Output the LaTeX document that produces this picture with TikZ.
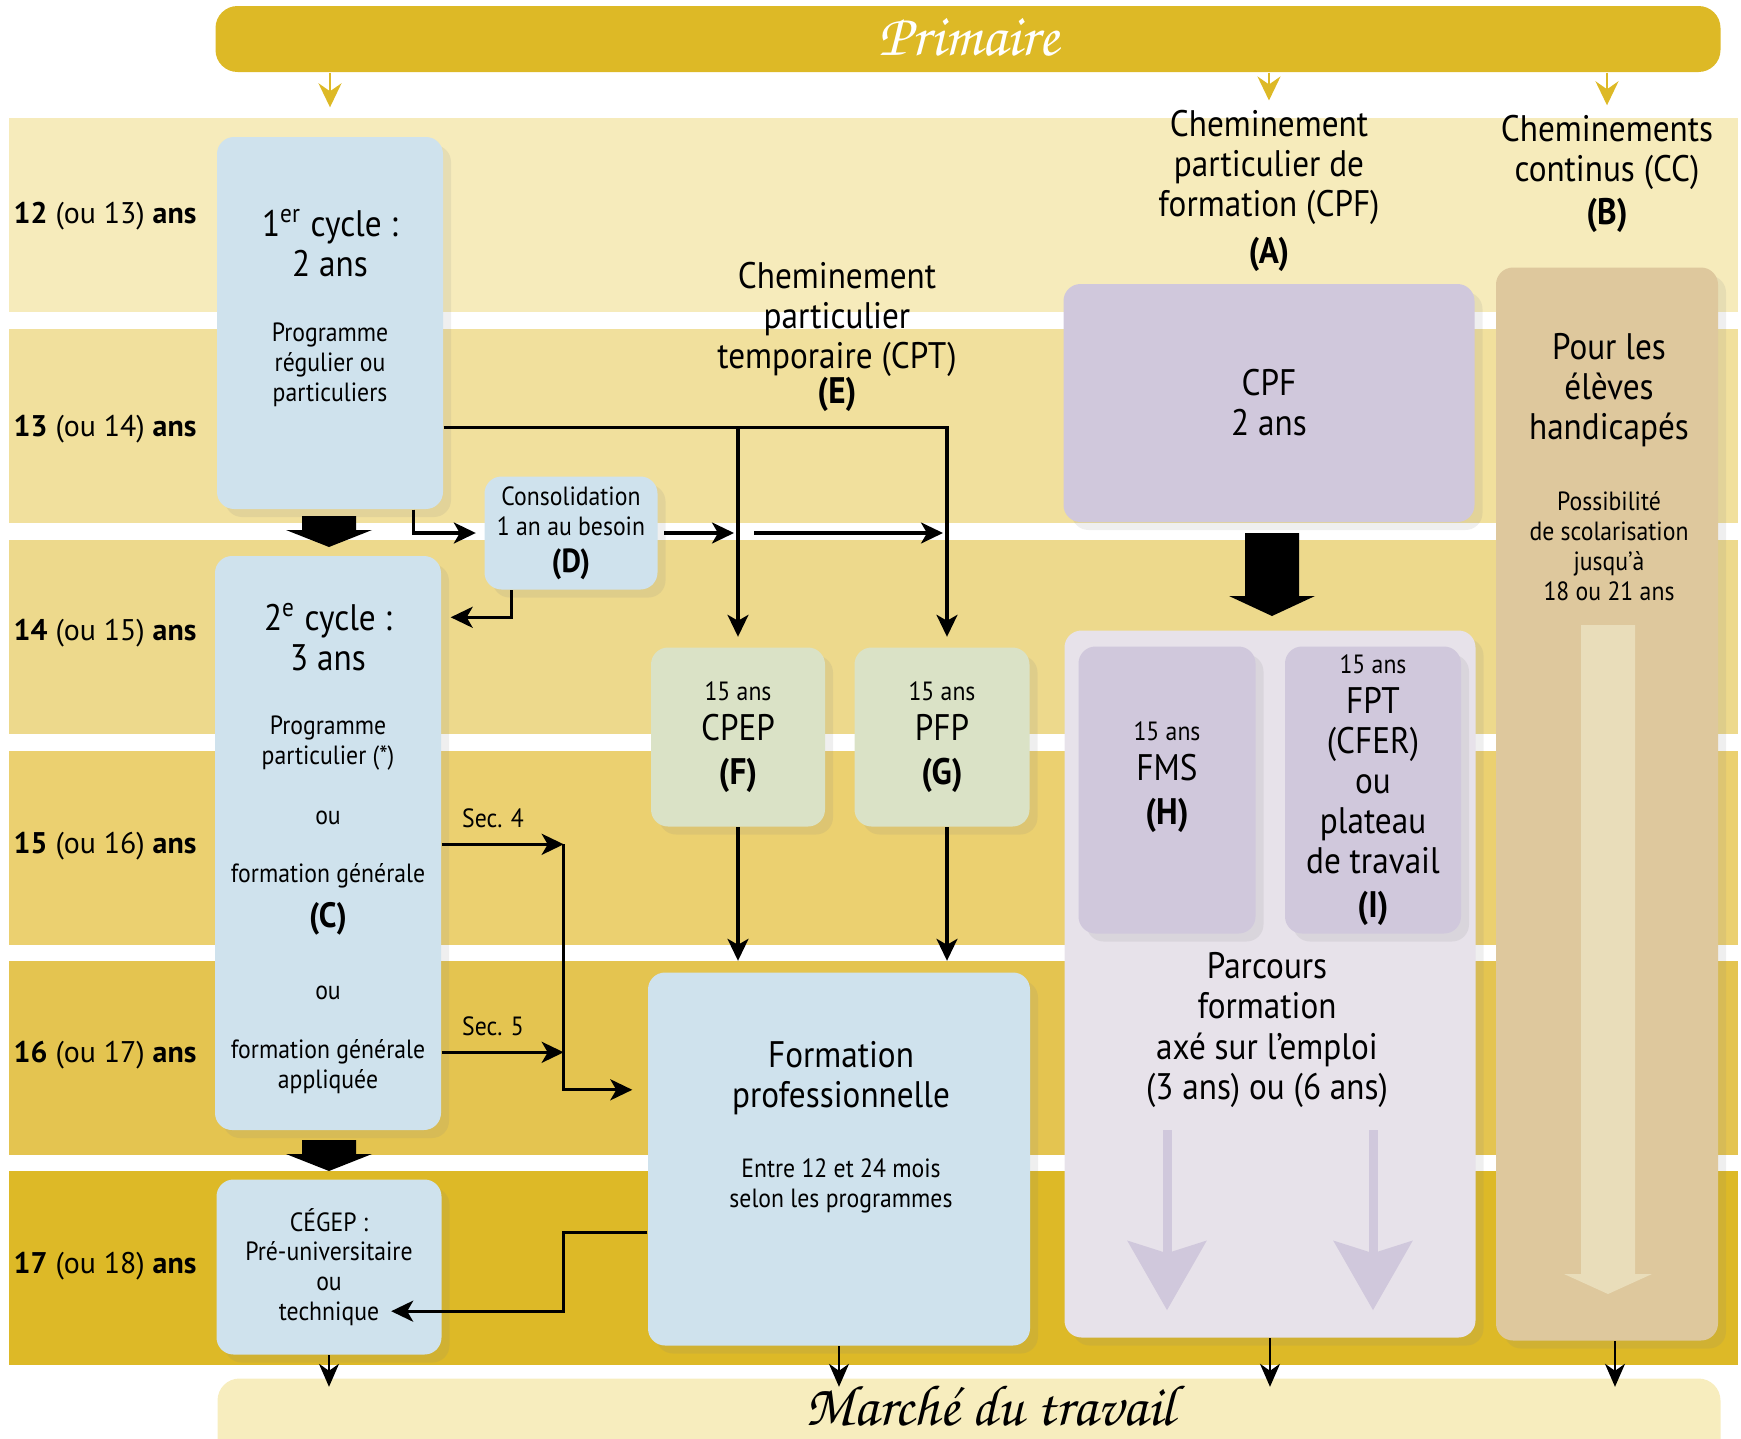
\documentclass[tikz,border=0pt]{standalone}
\usepackage{fontspec}
\setmainfont[FakeStretch=0.9]{PT Sans}
\newfontfamily\agefont{PT Sans}
\newfontfamily\calligfont{TeX Gyre Chorus}
\usetikzlibrary{arrows.meta,calc,shadows}

\definecolor{gold}{HTML}{DDB926}
\definecolor{bandA}{HTML}{F6EBBB}
\definecolor{bandB}{HTML}{F1E09D}
\definecolor{bandC}{HTML}{EDD98C}
\definecolor{bandD}{HTML}{EBD070}
\definecolor{bandE}{HTML}{E4C450}
\definecolor{bandF}{HTML}{DDB927}
\definecolor{paleblue}{HTML}{CFE2ED}
\definecolor{palegreen}{HTML}{DAE2C6}
\definecolor{lavender}{HTML}{D0C8DC}
\definecolor{mist}{HTML}{E7E2EA}
\definecolor{tan}{HTML}{DEC89D}
\definecolor{sand}{HTML}{E9DDBA}
\definecolor{cream}{HTML}{F7EDBE}

\newcommand{\grand}{\fontsize{10.5}{11.4}\selectfont}
\newcommand{\petit}{\fontsize{7.5}{8.5}\selectfont}
% block arrow: colour, x, top, stem half width, head half width, head y, tip y
\newcommand{\blockarrow}[7]{\fill[#1] (#2-#4,#3) -- (#2+#4,#3) -- (#2+#4,#6) -- (#2+#5,#6) -- (#2,#7) -- (#2-#5,#6) -- (#2-#4,#6) -- cycle;}

\tikzset{
  box/.style={rounded corners=1.7mm, inner sep=0pt, align=center,
    drop shadow={opacity=0.13, shadow xshift=0.8mm, shadow yshift=-0.8mm}},
  bluebox/.style={box, fill=paleblue},
  greenbox/.style={box, fill=palegreen},
  lavbox/.style={box, fill=lavender},
  big/.style={font=\grand, align=center, inner sep=0pt},
  small/.style={font=\petit, align=center, inner sep=0pt},
  age/.style={font=\agefont\fontsize{8.5}{10}\selectfont, anchor=west, inner sep=0pt},
  link/.style={line width=0.9pt, -{Stealth[length=2.2mm,width=2.1mm,inset=0.6mm]}},
  feed/.style={gold, line width=0.7pt, -{Stealth[length=2.4mm,width=2.3mm,inset=0.8mm]}},
  exit/.style={line width=0.5pt, -{Stealth[length=2.3mm,width=2mm,inset=0.7mm]}},
}

\begin{document}
\begin{tikzpicture}[x=0.1mm,y=-0.1mm]
\useasboundingbox (0,0) rectangle (1741,1439);

% age bands
\foreach \y/\c in {118/bandA,329/bandB,540/bandC,751/bandD,961/bandE,1171/bandF}
  \fill[\c] (9,\y) rectangle (1738,\y+194);

% banners
\node[fill=gold, rounded corners=2.2mm, minimum width=150.5mm, minimum height=6.6mm] (primaire) at (968,39) {};
\node[white, font=\calligfont\fontsize{17}{20}\selectfont] (primairelbl) at (969,37) {Primaire};
\node[fill=cream, rounded corners=2.2mm, minimum width=150.3mm, minimum height=10.1mm] (marche) at (969,1429) {};
\node[font=\calligfont\fontsize{16.5}{19}\selectfont, inner sep=0pt] (marchelbl) at (990,1406) {Marché du travail};

% ages
\foreach \a/\b/\y in {12/13/216,13/14/429,14/15/633,15/16/846,16/17/1055,17/18/1266}
  \node[age] (age\a) at (13,\y) {\textbf{\a} (ou \b) \textbf{ans}};

% regular path
\node[bluebox, minimum width=22.6mm, minimum height=37.2mm] (cyc1) at (330,323) {};
\node[big] (cyc1a) at (330,243) {1\textsuperscript{er} cycle :\\2 ans};
\node[small] (cyc1b) at (330,365) {Programme\\régulier ou\\particuliers};
\node[bluebox, font=\petit, minimum width=17.3mm, minimum height=11.3mm] (cons) at (571,533)
  {Consolidation\\1 an au besoin\\[2pt]{\bfseries\fontsize{9.5}{9}\selectfont(D)}};
\node[bluebox, minimum width=22.6mm, minimum height=57.4mm] (cyc2) at (328,843) {};
\node[big] (cyc2a) at (328,637) {2\textsuperscript{e} cycle :\\3 ans};
\node[small] (cyc2b) at (328,905) {Programme\\particulier (*)\\[8.5pt]ou\\[8pt]formation générale\\[3pt]%
  {\bfseries\fontsize{10}{9}\selectfont(C)}\\[12pt]ou\\[8.5pt]formation générale\\appliquée};
\node[bluebox, font=\petit, minimum width=22.5mm, minimum height=17.5mm] (cegep) at (329,1267)
  {CÉGEP :\\Pré-universitaire\\ou\\technique};

% CPT
\node[big] (hdrE) at (837,337) {Cheminement\\particulier\\temporaire (CPT)\\[-1.5pt]\textbf{(E)}};
\node[greenbox, font=\grand, minimum width=17.4mm, minimum height=17.9mm] (cpep) at (738,737)
  {{\petit 15 ans}\\CPEP\\[1pt]\textbf{(F)}};
\node[greenbox, font=\grand, minimum width=17.5mm, minimum height=17.9mm] (pfp) at (942,737)
  {{\petit 15 ans}\\PFP\\[1pt]\textbf{(G)}};
\node[bluebox, minimum width=38.2mm, minimum height=37.3mm] (fp) at (839,1159) {};
\node[big] (fpa) at (841,1078) {Formation\\professionnelle};
\node[small] (fpb) at (841,1186) {Entre 12 et 24 mois\\selon les programmes};

% CPF
\node[big] (hdrA) at (1269,191) {Cheminement\\particulier de\\formation (CPF)\\[2pt]\textbf{(A)}};
\node[lavbox, font=\grand, minimum width=41.1mm, minimum height=23.8mm] (cpf) at (1269,403) {CPF\\2 ans};
\node[box, fill=mist, minimum width=41.1mm, minimum height=70.7mm] (parc) at (1270,984) {};
\node[lavbox, minimum width=17.7mm, minimum height=28.7mm] (fms) at (1167,790) {};
\node[big] (fmsa) at (1167,777) {{\petit 15 ans}\\FMS\\[1pt]\textbf{(H)}};
\node[lavbox, font=\grand, minimum width=17.6mm, minimum height=28.7mm] (fpt) at (1373,790)
  {{\petit 15 ans}\\FPT\\(CFER)\\ou\\plateau\\de travail\\[1pt]\textbf{(I)}};
\node[big] (parca) at (1267,1030) {Parcours\\formation\\axé sur l’emploi\\(3 ans) ou (6 ans)};
\draw[line width=0.9mm, lavender, -{Stealth[length=6.9mm,width=7.8mm,inset=1.2mm]}]
  ($(fms.south)+(0,196)$) -- ($(fms.south)+(0,376)$);
\draw[line width=0.9mm, lavender, -{Stealth[length=6.9mm,width=7.8mm,inset=1.2mm]}]
  ($(fpt.south)+(0,196)$) -- ($(fpt.south)+(0,376)$);

% CC
\node[big] (hdrB) at (1607,174) {Cheminements\\continus (CC)\\[1pt]\textbf{(B)}};
\node[box, fill=tan, minimum width=22.2mm, minimum height=107.3mm] (cc) at (1607,804) {};
\blockarrow{sand}{1608}{625}{27}{44}{1274}{1294}
\node[big] (cca) at (1609,390) {Pour les\\élèves\\handicapés};
\node[small] (ccb) at (1609,546) {Possibilité\\de scolarisation\\jusqu’à\\18 ou 21 ans};

% big arrows
\blockarrow{black}{329}{516}{27}{43}{530}{547}
\blockarrow{black}{329}{1140}{27}{43}{1154}{1171}
\blockarrow{black}{1272}{533}{27}{43}{596}{616}

% feeds
\draw[feed] (primaire.south -| cyc1.north) -- ([yshift=2.9mm]cyc1.north);
\draw[feed] (primaire.south -| hdrA.north) -- ([yshift=0.9mm]hdrA.north);
\draw[feed] (primaire.south -| hdrB.north) -- ([yshift=0.9mm]hdrB.north);

% junctions
\coordinate (hub) at ($(cyc1.south east)+(0,-82)$);
\coordinate (drop1) at ($(cyc1.south east)+(-30,0)$);
\coordinate (drop2) at ($(cons.south west)+(28,0)$);
\coordinate (in2) at ($(cyc2.north east)+(0,62)$);
\coordinate (out4) at ($(cyc2.north east)+(0,289)$);
\coordinate (out5) at ($(cyc2.north east)+(0,497)$);
\coordinate (trunk) at ($(out4)+(122,0)$);
\coordinate (infp) at ($(fp.north west)+(0,118)$);
\coordinate (outfp) at ($(fp.north west)+(0,261)$);
\coordinate (incg) at ($(cegep.south east)+(-51,-44)$);

% connectors
\draw[link] (hub) -| ([xshift=0.5mm,yshift=1mm]pfp.north);
\draw[link] (hub -| cpep.north) -- ([yshift=1mm]cpep.north);
\draw[link] (drop1) |- ([xshift=-0.8mm]cons.west);
\draw[link, shorten <=0.6mm] (cons.east) -- ([xshift=-0.4mm]cons.east -| cpep.north);
\draw[link, shorten <=1.6mm] (cons.east -| cpep.north) -- ([xshift=0.1mm]cons.east -| pfp.north);
\draw[link] (drop2) |- ([xshift=0.9mm]in2);
\draw[link] (out4) -- node[above=1pt, pos=0.42, font=\petit] {Sec. 4} (trunk);
\draw[link] (out5) -- node[above=1pt, pos=0.42, font=\petit] {Sec. 5} (out5 -| trunk);
\draw[link] (trunk) |- ([xshift=-1.5mm]infp);
\draw[link] (outfp) -| (trunk |- incg) -- (incg);
\draw[link] (cpep.south) -- ([yshift=1.1mm]cpep.south |- fp.north);
\draw[link] ([xshift=0.5mm]pfp.south) -- ([xshift=0.5mm,yshift=1.1mm]pfp.south |- fp.north);

% towards the job market
\foreach \n in {cegep,fp,parc}
  \draw[exit] (\n.south) -- ([yshift=-0.9mm]\n.south |- marche.north);
\draw[exit] ([xshift=0.8mm]cc.south) -- ([xshift=0.8mm,yshift=-0.9mm]cc.south |- marche.north);
\end{tikzpicture}
\end{document}
